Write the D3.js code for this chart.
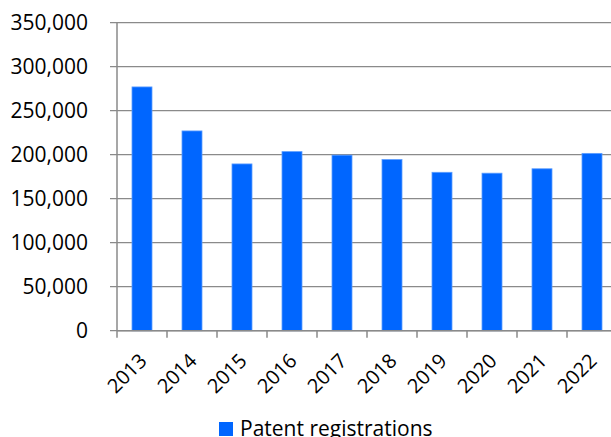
<!DOCTYPE html>
<html lang="en">
<head>
<meta charset="UTF-8">
<title>Patent registrations</title>
<script src="https://d3js.org/d3.v7.min.js"></script>
<style>
  body { margin: 0; background: #fff; }
  text { font-family: "Open Sans", "Noto Sans", sans-serif; fill: #000; }
</style>
</head>
<body>
<svg width="611" height="437"></svg>
<script>
// data
var years = ["2013", "2014", "2015", "2016", "2017", "2018", "2019", "2020", "2021", "2022"];
var registrations = [277000, 227000, 189500, 203500, 199500, 194500, 180000, 179000, 184000, 201500];
var yTicks = [0, 50000, 100000, 150000, 200000, 250000, 300000, 350000];
var seriesName = "Patent registrations";

var svg = d3.select("svg");
var plotLeft = 117, plotTop = 22.7, plotBottom = 330.7, bandW = 50;

// x scale: each year gets a 50px slot, chart runs off the right edge
var x = d3.scaleBand()
    .domain(years)
    .range([plotLeft, plotLeft + bandW * years.length])
    .paddingInner(0.6)
    .paddingOuter(0.3);

var y = d3.scaleLinear()
    .domain([0, 350000])
    .range([plotBottom, plotTop]);

// gridlines
svg.append("g")
    .selectAll("line")
    .data(yTicks)
    .join("line")
    .attr("x1", plotLeft - 7)
    .attr("x2", 611)
    .attr("y1", d => y(d))
    .attr("y2", d => y(d))
    .attr("stroke", "#8a8a8a")
    .attr("stroke-width", 1.3);

// y labels
svg.append("g")
    .selectAll("text")
    .data(yTicks)
    .join("text")
    .attr("x", 88)
    .attr("y", d => y(d))
    .attr("dy", "0.35em")
    .attr("text-anchor", "end")
    .attr("font-size", 21)
    .text(d => d3.format(",")(d));

// bars
svg.append("g")
    .selectAll("rect")
    .data(registrations)
    .join("rect")
    .attr("x", (d, i) => x(years[i]))
    .attr("y", d => y(d))
    .attr("width", x.bandwidth())
    .attr("height", d => plotBottom - y(d))
    .attr("fill", "#0066ff")
    .attr("stroke", "#5c9dff")
    .attr("stroke-width", 0.8);

// axis lines
svg.append("line")
    .attr("x1", plotLeft).attr("x2", plotLeft)
    .attr("y1", plotTop).attr("y2", plotBottom)
    .attr("stroke", "#8a8a8a").attr("stroke-width", 1.5);

svg.append("line")
    .attr("x1", plotLeft).attr("x2", 611)
    .attr("y1", plotBottom).attr("y2", plotBottom)
    .attr("stroke", "#8a8a8a").attr("stroke-width", 1.5);

// bottom ticks at slot boundaries
svg.append("g")
    .selectAll("line")
    .data(d3.range(years.length + 1))
    .join("line")
    .attr("x1", i => plotLeft + i * bandW)
    .attr("x2", i => plotLeft + i * bandW)
    .attr("y1", plotBottom)
    .attr("y2", plotBottom + 7)
    .attr("stroke", "#8a8a8a")
    .attr("stroke-width", 1.5);

// x labels, rotated
svg.append("g")
    .selectAll("text")
    .data(years)
    .join("text")
    .attr("transform", d => "translate(" + (x(d) + x.bandwidth() / 2 - 4) + "," + 352 + ") rotate(-45)")
    .attr("text-anchor", "end")
    .attr("dy", "0.71em")
    .attr("font-size", 20)
    .text(d => d);

// legend
var legend = svg.append("g").attr("transform", "translate(219,422)");
legend.append("rect")
    .attr("width", 14).attr("height", 14)
    .attr("fill", "#0066ff");
legend.append("text")
    .attr("x", 21)
    .attr("y", 7)
    .attr("dy", "0.35em")
    .attr("font-size", 21)
    .text(seriesName);
</script>
</body>
</html>
